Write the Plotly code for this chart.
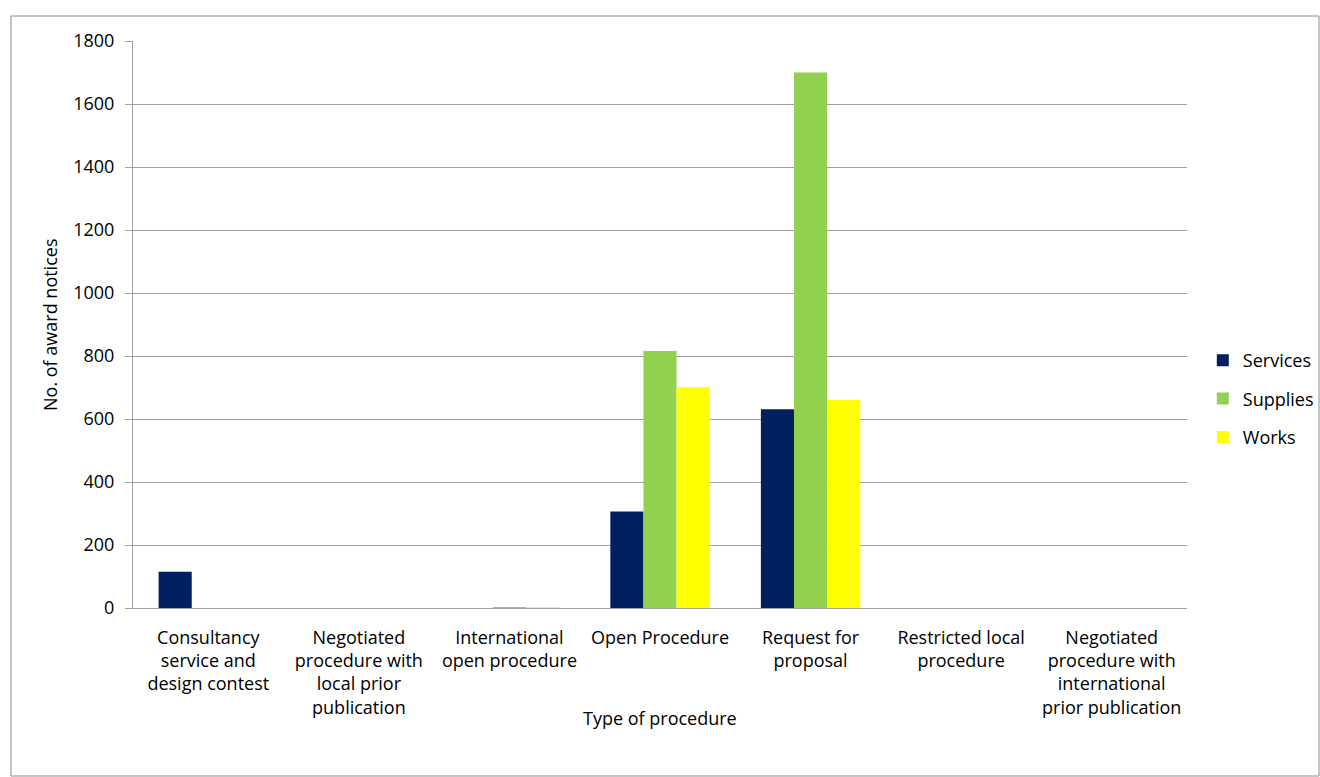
import plotly.graph_objects as go

categories = [
    "Consultancy<br>service and<br>design contest",
    "Negotiated<br>procedure with<br>local prior<br>publication",
    "International<br>open procedure",
    "Open Procedure",
    "Request for<br>proposal",
    "Restricted local<br>procedure",
    "Negotiated<br>procedure with<br>international<br>prior publication",
]
services = [115, 0, 0, 306, 631, 0, 0]
supplies = [0, 0, 3, 816, 1700, 0, 0]
works = [0, 0, 2, 701, 660, 0, 0]

series = [
    ("Services", services, "#002060"),
    ("Supplies", supplies, "#92D050"),
    ("Works", works, "#FFFF00"),
]

FONT = "Open Sans"
FS = 18

# plot area in pixels
L, R, T, B = 133, 1187, 41, 608
PW, PH = R - L, B - T

fig = go.Figure()
for name, vals, color in series:
    fig.add_trace(go.Bar(
        name=name, x=list(range(len(categories))), y=vals,
        legendgroup=name,
        marker=dict(color=color, line=dict(width=0)),
    ))

fig.update_layout(
    width=1320, height=777,
    margin=dict(l=L, r=1320 - R, t=T, b=777 - B, autoexpand=False),
    paper_bgcolor="white", plot_bgcolor="white",
    barmode="group", bargap=0.34, bargroupgap=0,
    font=dict(family=FONT, size=FS, color="#000000"),
    showlegend=True,
    legend=dict(
        x=1.015, y=(B - 399) / PH, xanchor="left", yanchor="middle",
        font=dict(size=FS), tracegroupgap=12, traceorder="grouped",
        itemsizing="constant", bgcolor="rgba(0,0,0,0)",
    ),
    xaxis=dict(
        tickmode="array", tickvals=list(range(len(categories))), ticktext=categories,
        range=[-0.5, 6.5], showgrid=False, zeroline=False,
        showline=True, linecolor="#A0A0A0", linewidth=1,
        ticks="", tickangle=0, ticklabelstandoff=13,
    ),
    yaxis=dict(
        range=[0, 1800], dtick=200, showgrid=True, gridcolor="#A0A0A0", gridwidth=1,
        zeroline=False, showline=True, linecolor="#A0A0A0", linewidth=1,
        ticks="outside", ticklen=7, tickcolor="#A0A0A0", ticklabelstandoff=7,
    ),
    annotations=[
        dict(text="Type of procedure", xref="paper", yref="paper",
             x=0.5, y=(B - 718) / PH, xanchor="center", yanchor="middle",
             showarrow=False, font=dict(size=FS)),
        dict(text="No. of award notices", xref="paper", yref="paper",
             x=(50 - L) / PW, y=(B - 325) / PH, xanchor="center", yanchor="middle",
             textangle=-90, showarrow=False, font=dict(size=FS)),
    ],
)

# Outer chart border
fig.add_shape(
    type="rect", xref="paper", yref="paper",
    x0=(11 - L) / PW, x1=(1319 - L) / PW,
    y0=(B - 776) / PH, y1=(B - 16) / PH,
    line=dict(color="#8C8C8C", width=1), fillcolor="rgba(0,0,0,0)", layer="below",
)

fig.write_html("out.html")
